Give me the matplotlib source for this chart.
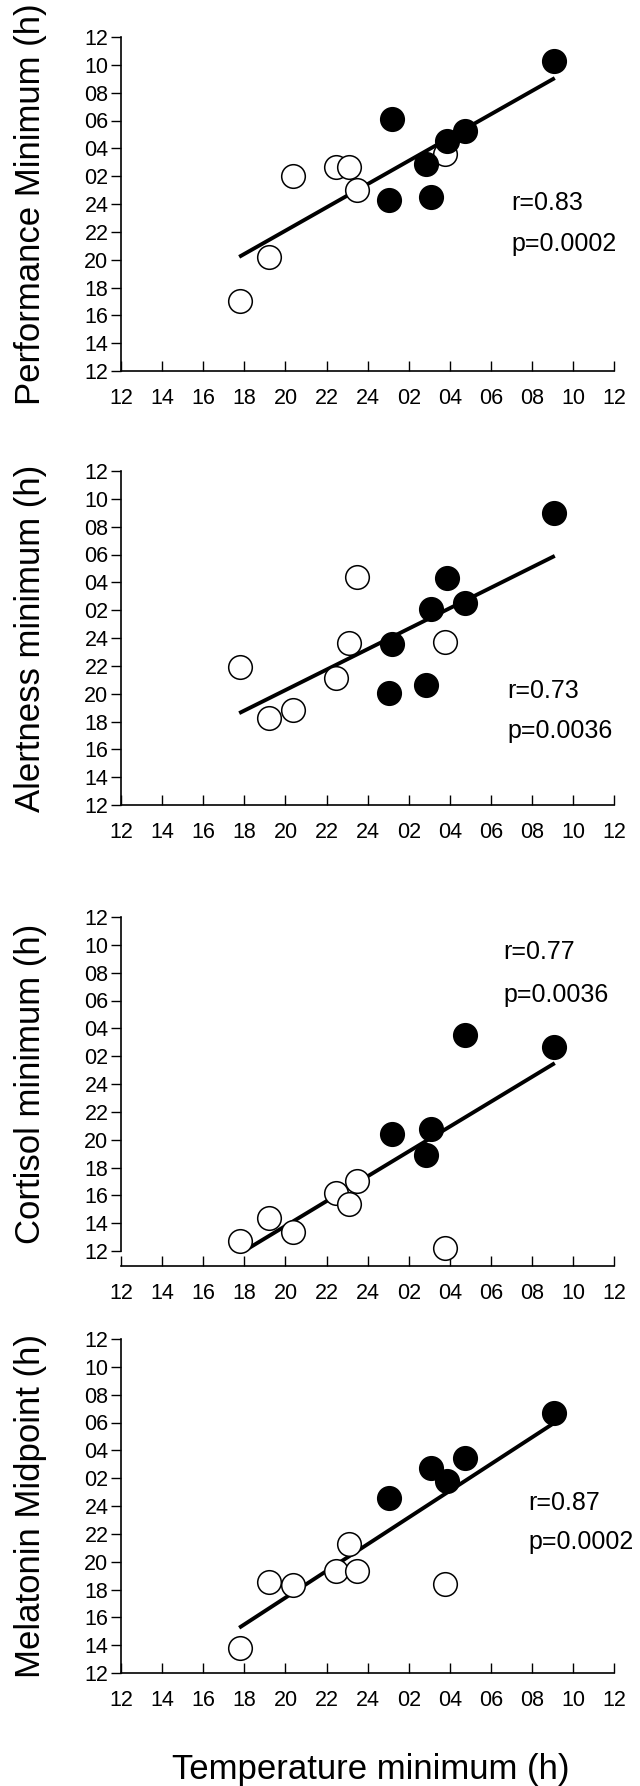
import numpy as np
import matplotlib
matplotlib.use("Agg")
import matplotlib.pyplot as plt

plt.rcParams["font.family"] = ["Liberation Sans", "DejaVu Sans"]

# hours on a 12..36 scale (24 = midnight, 26 = 02:00 next day)
tick_vals = list(range(12, 37, 2))
tick_labels = ["12", "14", "16", "18", "20", "22", "24", "02", "04", "06", "08", "10", "12"]

ylabels = ["Performance Minimum (h)", "Alertness minimum (h)",
           "Cortisol minimum (h)", "Melatonin Midpoint (h)"]
stats_r = ["r=0.83", "r=0.73", "r=0.77", "r=0.87"]
stats_p = ["p=0.0002", "p=0.0036", "p=0.0036", "p=0.0002"]
stats_x = [31.0, 30.8, 30.6, 31.8]
stats_y = [(24.1, 21.1), (20.2, 17.35), (33.5, 30.4), (24.2, 21.4)]

# open circles
open_x = [
    [17.8, 19.2, 20.35, 22.45, 23.1, 23.5, 27.75],
    [17.8, 19.2, 20.35, 22.45, 23.1, 23.5, 27.75],
    [17.8, 19.2, 20.35, 22.45, 23.1, 23.5, 27.75],
    [17.8, 19.2, 20.35, 22.45, 23.1, 23.5, 27.75],
]
open_y = [
    [17.0, 20.2, 26.0, 26.65, 26.65, 25.0, 27.6],
    [21.9, 18.25, 18.85, 21.1, 23.65, 28.4, 23.7],
    [12.7, 14.4, 13.35, 16.2, 15.35, 17.0, 12.25],
    [13.8, 18.55, 18.3, 19.35, 21.25, 19.35, 18.4],
]
# filled circles
fill_x = [
    [25.05, 25.2, 26.85, 27.1, 27.85, 28.75, 33.05],
    [25.05, 25.2, 26.85, 27.1, 27.85, 28.75, 33.05],
    [25.2, 26.85, 27.1, 28.75, 33.05],
    [25.05, 27.1, 27.85, 28.75, 33.05],
]
fill_y = [
    [24.3, 30.1, 26.85, 24.5, 28.5, 29.25, 34.25],
    [20.05, 23.55, 20.65, 26.05, 28.3, 26.5, 32.95],
    [20.4, 18.9, 20.8, 27.55, 26.65],
    [24.6, 26.75, 25.8, 27.45, 30.7],
]
# regression line endpoints
line_x = [(17.75, 33.1), (17.75, 33.1), (18.1, 33.1), (17.75, 33.0)]
line_y = [(20.2, 33.05), (18.6, 29.9), (12.1, 25.5), (15.25, 29.9)]

fig = plt.figure(figsize=(6.4, 17.86), dpi=100)
H = 1786.0
tops = [37, 471, 917, 1339]
ax_h = 334
left, right = 0.189, 0.96

for i in range(4):
    ax = fig.add_axes([left, 1 - (tops[i] + ax_h) / H, right - left, ax_h / H])
    ax.plot(line_x[i], line_y[i], color="black", lw=2.8, solid_capstyle="butt", zorder=2)
    ax.plot(open_x[i], open_y[i], "o", ms=17, mfc="white", mec="black", mew=1.1, zorder=3)
    ax.plot(fill_x[i], fill_y[i], "o", ms=17, mfc="black", mec="black", mew=1.1, zorder=3)
    ax.text(stats_x[i], stats_y[i][0], stats_r[i], fontsize=18, va="center", ha="left")
    ax.text(stats_x[i], stats_y[i][1], stats_p[i], fontsize=18, va="center", ha="left")
    ax.set_xlim(12, 36)
    ax.set_ylim(12, 36)
    ax.set_xticks(tick_vals)
    ax.set_xticklabels(tick_labels)
    ax.set_yticks(tick_vals)
    ax.set_yticklabels(tick_labels)
    ax.tick_params(axis="x", direction="in", length=7, width=1, labelsize=15.5, pad=12)
    ax.tick_params(axis="y", direction="out", length=7, width=1, labelsize=15.5, pad=2)
    ax.spines["top"].set_visible(False)
    ax.spines["right"].set_visible(False)
    if i == 2:
        ax.spines["bottom"].set_position(("outward", 11))
    ax.set_ylabel(ylabels[i], fontsize=25)
    ax.yaxis.set_label_coords(-0.15, 0.5)
    for sp in ax.spines.values():
        sp.set_linewidth(1.2)
    for ln in ax.lines:
        ln.set_clip_on(False)

fig.text(0.58, 1 - 1770 / H, "Temperature minimum (h)", fontsize=25, ha="center", va="center")

fig.savefig("out.png", dpi=100)
